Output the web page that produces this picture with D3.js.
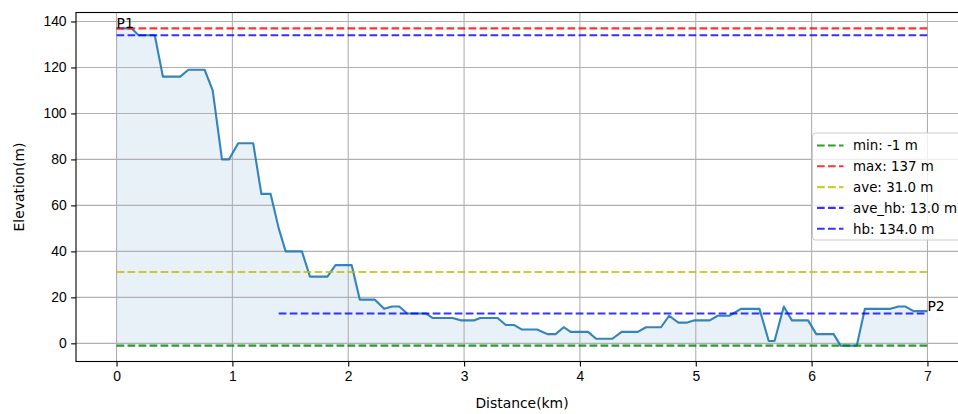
<!DOCTYPE html>
<html>
<head>
<meta charset="utf-8">
<script src="https://cdn.jsdelivr.net/npm/d3@7"></script>
<style>
	body { margin: 0; background: #fff; }
	svg { display: block; font-family: 'DejaVu Sans', sans-serif; }
	.grid line { stroke: #b0b0b0; stroke-width: 1.1px; }
	.axis path, .axis line { stroke: #000; stroke-width: 1.1px; }
	.axis text { font-size: 13.9px; fill: #000; }
</style>
</head>
<body>
<svg id="chart"></svg>
<script>
'use strict';
//Elevation profile.
const dist = [0, 0.13, 0.19, 0.33, 0.40, 0.55, 0.62, 0.76, 0.83, 0.91, 0.97, 1.05, 1.18, 1.25, 1.33,
	1.40, 1.46, 1.60, 1.67, 1.82, 1.89, 2.03, 2.10, 2.23, 2.31, 2.38, 2.44, 2.51, 2.67, 2.73,
	2.90, 2.97, 3.09, 3.14, 3.29, 3.36, 3.43, 3.50, 3.63, 3.72, 3.79, 3.86, 3.92, 4.07, 4.14,
	4.28, 4.36, 4.50, 4.57, 4.70, 4.77, 4.85, 4.92, 4.99, 5.12, 5.19, 5.29, 5.39, 5.55, 5.63,
	5.68, 5.76, 5.83, 5.97, 6.04, 6.19, 6.25, 6.39, 6.46, 6.68, 6.75, 6.81, 6.88, 7.00];
const elev = [137, 137, 134, 134, 116, 116, 119, 119, 110, 80, 80, 87, 87, 65, 65,
	50, 40, 40, 29, 29, 34, 34, 19, 19, 15, 16, 16, 13, 13, 11,
	11, 10, 10, 11, 11, 8, 8, 6, 6, 4, 4, 7, 5, 5, 2,
	2, 5, 5, 7, 7, 12, 9, 9, 10, 10, 12, 12, 15, 15, 1,
	1, 16, 10, 10, 4, 4, -1, -1, 15, 15, 16, 16, 14, 14];
//Summary lines shown in the legend.
const statLabels = ['min: -1 m', 'max: 137 m', 'ave: 31.0 m', 'ave_hb: 13.0 m', 'hb: 134.0 m'];
const statValues = [-1, 137, 31.0, 13.0, 134.0];
const statFrom = [0, 0, 0, 1.4, 0]; //Distance where each line starts.
const statTo = [7, 7, 7, 7, 7];
const statColors = ['#008000', '#ff0000', '#bfbf00', '#0000ff', '#0000ff'];
const xTicks = [0, 1, 2, 3, 4, 5, 6, 7];
const yTicks = [0, 20, 40, 60, 80, 100, 120, 140];
const endLabels = ['P1', 'P2'];

const W = 958, H = 414;
const mL = 76, mR = 968, mT = 12.5, mB = 361.5; //Axes box edges; the right one falls off the picture.
const svg = d3.select('#chart').attr('width', W).attr('height', H);

const x = d3.scaleLinear().domain([-0.35, 7.35]).range([mL, mR]);
const y = d3.scaleLinear().domain([-7.9, 143.9]).range([mB, mT]);

const pts = dist.map((d, i) => ({ d: d, e: elev[i] }));
const minE = statValues[0];

//Fill under the profile, down to the minimum.
svg.append('path')
	.datum(pts)
	.attr('d', d3.area().x(p => x(p.d)).y0(y(minE)).y1(p => y(p.e)))
	.style('fill', '#1f77b4')
	.style('fill-opacity', 0.1);

//Grid lines sit above the fill but under the lines.
const grid = svg.append('g').attr('class', 'grid');
grid.selectAll('line.gx').data(xTicks).join('line')
	.attr('class', 'gx')
	.attr('x1', d => x(d)).attr('x2', d => x(d))
	.attr('y1', mT).attr('y2', mB);
grid.selectAll('line.gy').data(yTicks).join('line')
	.attr('class', 'gy')
	.attr('x1', mL).attr('x2', mR)
	.attr('y1', d => y(d)).attr('y2', d => y(d));

//Profile.
svg.append('path')
	.datum(pts)
	.attr('d', d3.line().x(p => x(p.d)).y(p => y(p.e)))
	.style('fill', 'none')
	.style('stroke', '#1f77b4')
	.style('stroke-opacity', 0.9)
	.style('stroke-width', '2.1px')
	.style('stroke-linejoin', 'round');

//Dashed summary lines.
svg.selectAll('line.stat').data(statValues).join('line')
	.attr('class', 'stat')
	.attr('x1', (d, i) => x(statFrom[i]))
	.attr('x2', (d, i) => x(statTo[i]))
	.attr('y1', d => y(d)).attr('y2', d => y(d))
	.style('stroke', (d, i) => statColors[i])
	.style('stroke-opacity', 0.8)
	.style('stroke-width', '2.1px')
	.style('stroke-dasharray', '7.7,3.3');

//Start and end labels.
svg.selectAll('text.end').data(endLabels).join('text')
	.attr('class', 'end')
	.attr('x', (d, i) => x(i === 0 ? dist[0] : dist[dist.length - 1]))
	.attr('y', (d, i) => y(i === 0 ? elev[0] : elev[elev.length - 1]))
	.style('font-size', '13.9px')
	.text(d => d);

//Axes and frame.
svg.append('g').attr('class', 'axis')
	.attr('transform', `translate(0,${mB})`)
	.call(d3.axisBottom(x).tickValues(xTicks).tickSize(4.9).tickPadding(4.5).tickSizeOuter(0));
svg.append('g').attr('class', 'axis')
	.attr('transform', `translate(${mL},0)`)
	.call(d3.axisLeft(y).tickValues(yTicks).tickSize(4.9).tickPadding(4.5).tickSizeOuter(0));
svg.selectAll('.axis .domain').remove();
svg.append('rect')
	.attr('x', mL).attr('y', mT)
	.attr('width', mR - mL).attr('height', mB - mT)
	.style('fill', 'none')
	.style('stroke', '#000')
	.style('stroke-width', '1.1px');

svg.append('text')
	.attr('x', (mL + mR) / 2)
	.attr('y', 408)
	.attr('text-anchor', 'middle')
	.style('font-size', '13.9px')
	.text('Distance(km)');
svg.append('text')
	.attr('transform', `translate(24,${(mT + mB) / 2}) rotate(-90)`)
	.attr('text-anchor', 'middle')
	.style('font-size', '13.9px')
	.text('Elevation(m)');

//Legend, centre right.
const lg = svg.append('g').attr('transform', 'translate(812.5,133)');
lg.append('rect')
	.attr('width', 149).attr('height', 107)
	.attr('rx', 3)
	.style('fill', '#fff').style('fill-opacity', 0.8)
	.style('stroke', '#cccccc').style('stroke-width', '1px');
const rowH = 20.8;
statLabels.forEach((s, i) => {
	const cy = 12.5 + i * rowH;
	lg.append('line')
		.attr('x1', 4.5).attr('x2', 31)
		.attr('y1', cy).attr('y2', cy)
		.style('stroke', statColors[i])
		.style('stroke-opacity', 0.8)
		.style('stroke-width', '2.1px')
		.style('stroke-dasharray', '7.7,3.3');
	lg.append('text')
		.attr('x', 40.5).attr('y', cy)
		.attr('dy', '0.36em')
		.style('font-size', '13.4px')
		.text(s);
});
</script>
</body>
</html>
